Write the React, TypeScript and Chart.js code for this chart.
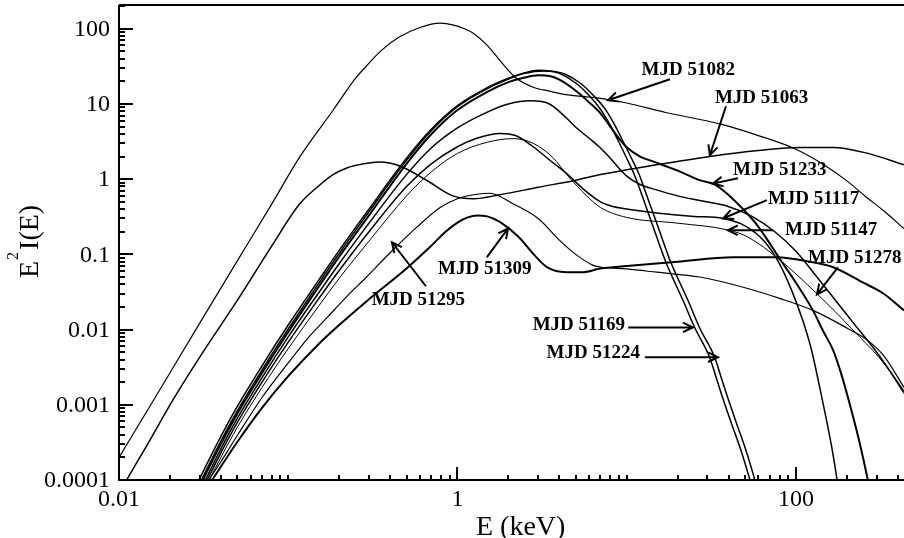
import { useEffect, useRef } from "react";
import { Chart, registerables } from "chart.js";
Chart.register(...registerables);

const X_MIN = 0.01;
const X_MAX = 435;
const Y_MIN = 1e-4;
const Y_MAX = 207;
const xTickLabels = ["0.01", "1", "100"];
const xTickValues = [0.01, 1, 100];
const yTickLabels = ["0.0001", "0.001", "0.01", "0.1", "1", "10", "100"];
const yTickValues = [1e-4, 1e-3, 1e-2, 0.1, 1, 10, 100];

// MJD 51082
const e51082 = [0.009, 0.01, 0.016, 0.03, 0.05, 0.08, 0.117, 0.184, 0.25, 0.29, 0.35, 0.45, 0.6, 0.79, 0.95, 1.1, 1.24, 1.5, 1.78, 2.2, 2.8, 3.5, 4.4, 7, 10, 17, 36, 60, 100, 150, 200, 260, 330, 435];
const f51082 = [1.35e-4, 2e-4, 1.15e-3, 0.0122, 0.082, 0.47, 1.98, 8.25, 22, 32, 50, 77, 104, 119, 112, 100, 87, 60, 38, 22.5, 16.7, 14.8, 13.3, 11.9, 10.3, 7.7, 5.4, 3.8, 2.5, 1.5, 0.95, 0.58, 0.38, 0.22];
// MJD 51063
const e51063 = [0.009, 0.0111, 0.015, 0.0208, 0.03, 0.05, 0.08, 0.117, 0.15, 0.184, 0.22, 0.26, 0.3, 0.347, 0.457, 0.66, 0.94, 1.24, 1.78, 3, 5, 7, 15, 31, 60, 106, 166, 263, 435];
const f51063 = [4.3e-5, 1e-4, 3.2e-4, 1.15e-3, 4.3e-3, 0.0244, 0.13, 0.47, 0.8, 1.15, 1.4, 1.55, 1.64, 1.69, 1.5, 0.96, 0.6, 0.55, 0.62, 0.78, 0.97, 1.15, 1.55, 2.0, 2.4, 2.64, 2.64, 2.22, 1.55];
// MJD 51169
const e51169 = [0.025, 0.03, 0.04, 0.05, 0.07, 0.1, 0.15, 0.2, 0.3, 0.5, 0.7, 1, 1.5, 2, 2.5, 3, 3.5, 4, 5, 6, 7, 8, 9, 10, 11, 12, 14, 17, 21.5, 25.3, 31, 34, 37.3, 42, 47, 53.5, 60];
const f51169 = [4.5e-5, 1.05e-4, 3.8e-4, 9.5e-4, 3.3e-3, 0.0115, 0.044, 0.113, 0.4, 1.9, 4.6, 9.5, 16.5, 22, 26, 28, 27.5, 25.5, 19, 13, 8.5, 5.2, 3.1, 1.9, 1.2, 0.72, 0.27, 0.08, 0.0245, 0.0105, 0.0042, 0.0022, 1.15e-3, 5.3e-4, 2.6e-4, 1e-4, 4e-5];
// MJD 51224
const e51224 = [0.025, 0.03, 0.04, 0.05, 0.07, 0.1, 0.15, 0.2, 0.3, 0.5, 0.7, 1, 1.5, 2, 2.5, 3.2, 3.75, 4.3, 5.35, 6.4, 7.5, 8.55, 9.6, 10.7, 11.8, 12.8, 15, 18.2, 23, 27, 33.2, 36.4, 40, 45, 50.3, 57.2, 64];
const f51224 = [3.9e-5, 9e-5, 3.3e-4, 8.3e-4, 2.9e-3, 0.0102, 0.04, 0.103, 0.37, 1.78, 4.4, 9.2, 16, 21.5, 25.5, 27.5, 27, 25, 18.7, 12.8, 8.4, 5.1, 3.05, 1.87, 1.18, 0.71, 0.265, 0.079, 0.0245, 0.0105, 0.0042, 0.0022, 1.15e-3, 5.3e-4, 2.6e-4, 1e-4, 4e-5];
// MJD 51233
const e51233 = [0.025, 0.03, 0.04, 0.05, 0.07, 0.1, 0.15, 0.2, 0.3, 0.5, 0.7, 1, 1.5, 2, 2.5, 3, 3.5, 4, 5, 6, 7, 8, 9, 10, 12, 14, 20, 27, 33, 43, 57, 70, 80, 100, 126, 145, 166, 185, 205, 235, 266, 300];
const f51233 = [3.5e-5, 8.2e-5, 3.0e-4, 7.6e-4, 2.65e-3, 0.0093, 0.036, 0.093, 0.33, 1.6, 3.95, 8.3, 14.5, 19.5, 22.5, 24, 23.5, 21, 15, 10.5, 7.5, 5.0, 3.5, 2.66, 2.0, 1.75, 1.3, 0.97, 0.85, 0.53, 0.27, 0.14, 0.088, 0.042, 0.018, 0.0095, 5.3e-3, 2.6e-3, 1.15e-3, 3.5e-4, 1e-4, 2.5e-5];
// MJD 51278
const e51278 = [0.025, 0.03, 0.04, 0.05, 0.07, 0.1, 0.15, 0.2, 0.3, 0.5, 0.7, 1, 1.5, 2, 2.7, 3.5, 4.4, 5, 6, 7, 8, 9, 10, 12, 15, 20, 27, 39, 55, 75, 100, 133, 170, 220, 300, 435];
const f51278 = [3.0e-5, 7e-5, 2.6e-4, 6.6e-4, 2.3e-3, 8e-3, 0.03, 0.075, 0.26, 1.15, 2.6, 4.8, 7.8, 10, 11, 10, 6.5, 4.9, 3.5, 2.6, 1.9, 1.4, 1.1, 0.85, 0.72, 0.6, 0.52, 0.44, 0.32, 0.2, 0.11, 0.05, 0.025, 0.012, 0.005, 1.5e-3];
// MJD 51117
const e51117 = [0.025, 0.03, 0.04, 0.05, 0.07, 0.1, 0.15, 0.2, 0.3, 0.5, 0.7, 1, 1.3, 1.78, 2.2, 2.8, 3.5, 4.4, 5.5, 7, 8.1, 10, 16, 25, 37, 50, 65, 80, 95, 110, 122, 135, 150, 165, 175, 185];
const f51117 = [2.6e-5, 6.2e-5, 2.3e-4, 5.8e-4, 2.0e-3, 6.8e-3, 0.025, 0.061, 0.2, 0.8, 1.6, 2.7, 3.5, 4.05, 3.8, 2.7, 1.8, 1.2, 0.75, 0.5, 0.44, 0.4, 0.35, 0.32, 0.3, 0.24, 0.15, 0.075, 0.032, 0.013, 6e-3, 2.2e-3, 7e-4, 2.3e-4, 1e-4, 4e-5];
// MJD 51147
const e51147 = [0.025, 0.03, 0.04, 0.05, 0.07, 0.1, 0.15, 0.2, 0.3, 0.5, 0.7, 1, 1.5, 2.13, 2.8, 3.66, 4.5, 5.8, 7, 10, 20, 40, 52, 80, 133, 217, 343, 435];
const f51147 = [2.2e-5, 5.5e-5, 2.0e-4, 5.0e-4, 1.7e-3, 5.6e-3, 0.02, 0.048, 0.15, 0.6, 1.25, 2.2, 3.1, 3.46, 3.0, 1.94, 1.1, 0.6, 0.42, 0.31, 0.26, 0.21, 0.17, 0.085, 0.03, 0.0099, 3.2e-3, 1.4e-3];
// MJD 51295
const e51295 = [0.025, 0.03, 0.034, 0.04, 0.05, 0.07, 0.1, 0.13, 0.17, 0.22, 0.29, 0.4, 0.575, 0.79, 1, 1.3, 1.55, 2.13, 3, 4, 5, 6.3, 7, 10, 15, 27, 50, 80, 126, 200, 263, 330, 435];
const f51295 = [2.5e-5, 6e-5, 1.0e-4, 1.75e-4, 3.9e-4, 1.25e-3, 3.6e-3, 7.6e-3, 0.0145, 0.027, 0.05, 0.105, 0.23, 0.42, 0.55, 0.63, 0.65, 0.47, 0.3, 0.155, 0.1, 0.072, 0.068, 0.064, 0.058, 0.05, 0.036, 0.026, 0.018, 0.0105, 0.0073, 0.0045, 0.0017];
// MJD 51309
const e51309 = [0.025, 0.03, 0.0355, 0.05, 0.07, 0.1, 0.15, 0.2, 0.3, 0.5, 0.7, 0.85, 1.0, 1.15, 1.3, 1.5, 1.78, 2.3, 2.79, 3.4, 4.4, 5.5, 7, 10, 20, 42.5, 77, 120, 166, 250, 327, 435];
const f51309 = [2.8e-5, 5.6e-5, 1e-4, 3.2e-4, 9.1e-4, 2.4e-3, 6.3e-3, 0.0115, 0.0254, 0.065, 0.13, 0.2, 0.265, 0.31, 0.33, 0.32, 0.27, 0.17, 0.103, 0.067, 0.058, 0.058, 0.065, 0.07, 0.08, 0.0915, 0.0915, 0.08, 0.0675, 0.042, 0.0304, 0.018];

const series = [
  { name: "MJD 51082", e: e51082, f: f51082, w: 1.2 },
  { name: "MJD 51063", e: e51063, f: f51063, w: 1.5 },
  { name: "MJD 51169", e: e51169, f: f51169, w: 1.5 },
  { name: "MJD 51224", e: e51224, f: f51224, w: 1.5 },
  { name: "MJD 51233", e: e51233, f: f51233, w: 2 },
  { name: "MJD 51278", e: e51278, f: f51278, w: 1.5 },
  { name: "MJD 51117", e: e51117, f: f51117, w: 1.5 },
  { name: "MJD 51147", e: e51147, f: f51147, w: 1 },
  { name: "MJD 51295", e: e51295, f: f51295, w: 1.2 },
  { name: "MJD 51309", e: e51309, f: f51309, w: 2 },
];

// annotation: label anchor (data coords), arrow tail -> head (data coords)
const notes = [
  { text: "MJD 51082", lx: 12.25, ly: 24.1, align: "left", ax: 18.0, ay: 21.3, hx: 7.75, hy: 11.2 },
  { text: "MJD 51063", lx: 33.2, ly: 10.2, align: "left", ax: 38.6, ay: 9.33, hx: 31.0, hy: 2.08 },
  { text: "MJD 51233", lx: 42.5, ly: 1.13, align: "left", ax: 45.4, ay: 1.03, hx: 32.3, hy: 0.873 },
  { text: "MJD 51117", lx: 68.3, ly: 0.468, align: "left", ax: 67.4, ay: 0.526, hx: 37.2, hy: 0.302 },
  { text: "MJD 51147", lx: 86.1, ly: 0.18, align: "left", ax: 73.1, ay: 0.209, hx: 39.6, hy: 0.209 },
  { text: "MJD 51278", lx: 117.8, ly: 0.0762, align: "left", ax: 177, ay: 0.0673, hx: 133, hy: 0.0294 },
  { text: "MJD 51309", lx: 0.767, ly: 0.0543, align: "left", ax: 1.49, ay: 0.0914, hx: 1.99, hy: 0.222 },
  { text: "MJD 51295", lx: 0.311, ly: 0.0211, align: "left", ax: 0.651, ay: 0.0377, hx: 0.41, hy: 0.145 },
  { text: "MJD 51169", lx: 9.77, ly: 0.0098, align: "right", ax: 10.2, ay: 0.0107, hx: 24.6, hy: 0.0107 },
  { text: "MJD 51224", lx: 11.97, ly: 0.00415, align: "right", ax: 12.8, ay: 0.00429, hx: 34.6, hy: 0.00429 },
];

const SERIF = "'Liberation Serif', 'Times New Roman', serif";

const framePlugin = {
  id: "frame",
  beforeDraw(chart: any) {
    const ctx = chart.ctx;
    ctx.save();
    ctx.fillStyle = "#fff";
    ctx.fillRect(0, 0, chart.width, chart.height);
    ctx.restore();
  },
  afterDatasetsDraw(chart: any) {
    const { ctx, chartArea: a, scales } = chart;
    const xs = scales.x;
    const ys = scales.y;
    ctx.save();
    ctx.strokeStyle = "#000";
    ctx.fillStyle = "#000";
    ctx.lineWidth = 2;
    ctx.beginPath();
    ctx.moveTo(a.left, a.top);
    ctx.lineTo(a.right, a.top);
    ctx.moveTo(a.left, a.top);
    ctx.lineTo(a.left, a.bottom);
    ctx.lineTo(a.right, a.bottom);
    ctx.stroke();

    ctx.beginPath();
    for (let k = -4; k <= 2; k++) {
      for (let m = 1; m <= 9; m++) {
        const v = m * Math.pow(10, k);
        if (v > Y_MAX) break;
        const py = Math.round(ys.getPixelForValue(v));
        const len = m === 1 ? 14 : 6;
        ctx.moveTo(a.left, py);
        ctx.lineTo(a.left + len, py);
      }
    }
    for (let k = -2; k <= 2; k++) {
      for (let m = 1; m <= 9; m++) {
        const v = m * Math.pow(10, k);
        if (v > X_MAX) break;
        const px = Math.round(xs.getPixelForValue(v));
        const major = xTickValues.indexOf(v) >= 0;
        const len = major ? 13 : 5;
        ctx.moveTo(px, a.bottom);
        ctx.lineTo(px, a.bottom - len);
      }
    }
    ctx.stroke();

    ctx.font = `24px ${SERIF}`;
    ctx.textAlign = "right";
    ctx.textBaseline = "middle";
    yTickValues.forEach((v, i) => {
      ctx.fillText(yTickLabels[i], a.left - 9, ys.getPixelForValue(v) + 1);
    });
    ctx.textAlign = "center";
    ctx.textBaseline = "alphabetic";
    xTickValues.forEach((v, i) => {
      ctx.fillText(xTickLabels[i], xs.getPixelForValue(v), 506);
    });

    ctx.font = `28px ${SERIF}`;
    ctx.textAlign = "left";
    ctx.fillText("E (keV)", 476, 535);

    ctx.save();
    ctx.translate(37.5, 278);
    ctx.rotate(-Math.PI / 2);
    ctx.textAlign = "left";
    ctx.font = `28px ${SERIF}`;
    ctx.fillText("E", 0, 0);
    const wE = ctx.measureText("E").width;
    ctx.font = `16px ${SERIF}`;
    ctx.fillText("2", wE + 1, -20);
    const w2 = ctx.measureText("2").width;
    ctx.font = `28px ${SERIF}`;
    ctx.fillText("I(E)", wE + w2 + 3, 0);
    ctx.restore();

    ctx.font = `bold 19px ${SERIF}`;
    ctx.lineWidth = 2;
    notes.forEach((n) => {
      ctx.textAlign = n.align as CanvasTextAlign;
      ctx.fillText(n.text, xs.getPixelForValue(n.lx), ys.getPixelForValue(n.ly));
      const x0 = xs.getPixelForValue(n.ax);
      const y0 = ys.getPixelForValue(n.ay);
      const x1 = xs.getPixelForValue(n.hx);
      const y1 = ys.getPixelForValue(n.hy);
      ctx.beginPath();
      ctx.moveTo(x0, y0);
      ctx.lineTo(x1, y1);
      const ang = Math.atan2(y1 - y0, x1 - x0);
      const L = 11;
      const h = 0.45;
      ctx.moveTo(x1 - L * Math.cos(ang - h), y1 - L * Math.sin(ang - h));
      ctx.lineTo(x1, y1);
      ctx.lineTo(x1 - L * Math.cos(ang + h), y1 - L * Math.sin(ang + h));
      ctx.stroke();
    });
    ctx.restore();
  },
};

export default function App() {
  const ref = useRef<HTMLCanvasElement>(null);
  useEffect(() => {
    if (!ref.current) return;
    const chart = new Chart(ref.current, {
      type: "line",
      data: {
        datasets: series.map((s) => ({
          label: s.name,
          data: s.e.map((x, i) => ({ x, y: s.f[i] })),
          borderColor: "#000",
          borderWidth: s.w,
          pointRadius: 0,
          fill: false,
          cubicInterpolationMode: "monotone" as const,
        })),
      },
      options: {
        animation: false,
        responsive: false,
        devicePixelRatio: 1,
        layout: { padding: { left: 119, right: 0, top: 5, bottom: 58 } },
        plugins: { legend: { display: false }, tooltip: { enabled: false } },
        scales: {
          x: { type: "logarithmic", min: X_MIN, max: X_MAX, display: false },
          y: { type: "logarithmic", min: Y_MIN, max: Y_MAX, display: false },
        },
      },
      plugins: [framePlugin],
    });
    return () => chart.destroy();
  }, []);
  return (
    <div style={{ position: "fixed", left: 0, top: 0, width: 904, height: 538 }}>
      <canvas ref={ref} width={904} height={538} />
    </div>
  );
}
